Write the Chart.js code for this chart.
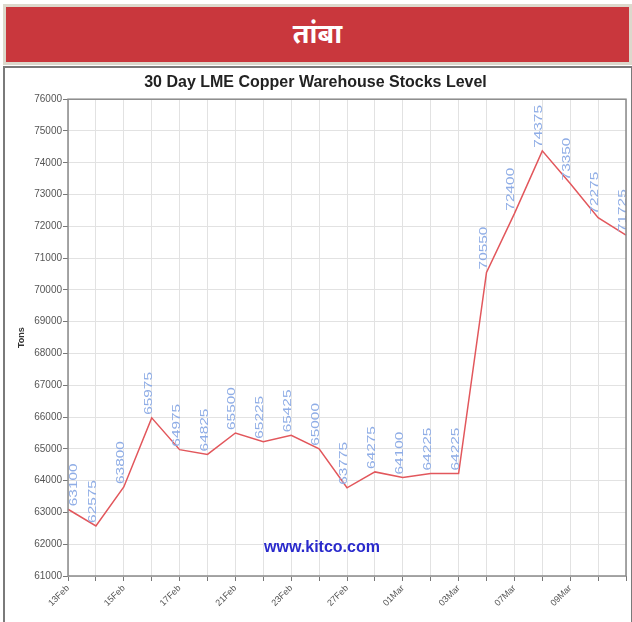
<!DOCTYPE html>
<html>
<head>
<meta charset="utf-8">
<script src="https://cdn.jsdelivr.net/npm/chart.js@4.4.1/dist/chart.umd.min.js"></script>
<style>
  body { margin: 0; background: #fff; width: 632px; height: 622px; overflow: hidden; position: relative; }
  #banner {
    position: absolute; left: 3px; top: 4px; width: 623px; height: 55px;
    background: #c9373d; border: 3px solid #dcd8cc;
    color: #fff; text-align: center; font: bold 27px "Noto Sans Devanagari", "Noto Sans", "DejaVu Sans", sans-serif;
    line-height: 60px;
  }
  #frame {
    position: absolute; left: 3px; top: 66px; width: 626px; height: 560px;
    border: 2px solid #7a7a7a; border-bottom: none;
  }
  #chart-box { position: absolute; left: 5px; top: 68px; width: 626px; height: 554px; }
</style>
</head>
<body>
<div id="banner">तांबा</div>
<div id="frame"></div>
<div id="chart-box"><canvas id="c" width="626" height="554"></canvas></div>
<script>
// trading days shown on the x axis (only every second one is labelled)
const days = ['13Feb', '14Feb', '15Feb', '16Feb', '17Feb', '20Feb', '21Feb', '22Feb', '23Feb', '24Feb',
  '27Feb', '28Feb', '01Mar', '02Mar', '03Mar', '06Mar', '07Mar', '08Mar', '09Mar', '10Mar', '13Mar'];

// LME copper warehouse stocks, tons
const stocks = [63100, 62575, 63800, 65975, 64975, 64825, 65500, 65225, 65425, 65000,
  63775, 64275, 64100, 64225, 64225, 70550, 72400, 74375, 73350, 72275, 71725];

const yMin = 61000;
const yMax = 76000;
const yStep = 1000;

// value labels written up from each point + watermark + plot border
const extras = {
  id: 'extras',
  afterDatasetsDraw(chart) {
    const ctx = chart.ctx;
    const area = chart.chartArea;
    const meta = chart.getDatasetMeta(0);

    ctx.save();
    ctx.font = '11px "Liberation Sans", Arial, sans-serif';
    ctx.fillStyle = '#8fade6';
    ctx.textAlign = 'left';
    ctx.textBaseline = 'middle';
    meta.data.forEach((pt, i) => {
      ctx.save();
      ctx.translate(Math.max(pt.x - 3, area.left + 6), pt.y - 3);
      ctx.rotate(-Math.PI / 2);
      ctx.scale(1.4, 1); // the original labels are stretched along the text
      ctx.fillText(String(stocks[i]), 0, 0);
      ctx.restore();
    });
    ctx.restore();

    ctx.save();
    ctx.strokeStyle = '#8a8a8a';
    ctx.lineWidth = 1.5;
    ctx.strokeRect(area.left, area.top, area.right - area.left, area.bottom - area.top);
    ctx.font = 'bold 16px "Liberation Sans", Arial, sans-serif';
    ctx.fillStyle = '#2a2acc';
    ctx.textAlign = 'center';
    ctx.textBaseline = 'middle';
    ctx.fillText('www.kitco.com', 317, 480);
    ctx.restore();
  }
};

const ctx = document.getElementById('c').getContext('2d');
new Chart(ctx, {
  type: 'line',
  data: {
    labels: days,
    datasets: [{
      data: stocks,
      borderColor: '#e2575c',
      borderWidth: 1.5,
      pointRadius: 0,
      tension: 0,
      fill: false
    }]
  },
  options: {
    responsive: false,
    animation: false,
    layout: { padding: { left: 0, right: 5, top: 0, bottom: 0 } },
    plugins: {
      legend: { display: false },
      tooltip: { enabled: false },
      title: {
        display: true,
        text: '30 Day LME Copper Warehouse Stocks Level',
        color: '#222',
        font: { family: '"Liberation Sans", Arial, sans-serif', size: 16, weight: 'bold' },
        padding: { top: 5, bottom: 7 }
      }
    },
    scales: {
      x: {
        offset: false,
        grid: { color: '#e2e2e2', tickLength: 5, tickColor: '#777' },
        border: { display: false },
        ticks: {
          autoSkip: false,
          maxRotation: 45,
          minRotation: 45,
          padding: 2,
          color: '#555',
          font: { family: '"Liberation Sans", Arial, sans-serif', size: 9 },
          callback: (v, i) => (i % 2 === 0 && i < 20 ? days[i] : '')
        },
        afterFit(scale) {
          scale.height = 46;
          scale.paddingLeft = 0;
          scale.paddingRight = 0;
        }
      },
      y: {
        min: yMin,
        max: yMax,
        grid: { color: '#e2e2e2', tickLength: 5, tickColor: '#777' },
        border: { display: false },
        ticks: {
          stepSize: yStep,
          padding: 1,
          color: '#555',
          font: { family: '"Liberation Sans", Arial, sans-serif', size: 10 },
          callback: (v) => String(v)
        },
        title: {
          display: true,
          text: 'Tons',
          color: '#333',
          font: { family: '"Liberation Sans", Arial, sans-serif', size: 9, weight: 'bold' },
          padding: { top: 11, bottom: 0 }
        },
        afterFit(scale) {
          scale.width = 63;
        }
      }
    }
  },
  plugins: [extras]
});
</script>
</body>
</html>
